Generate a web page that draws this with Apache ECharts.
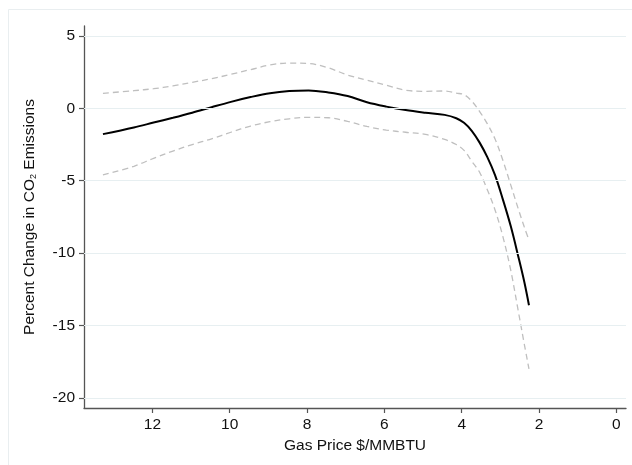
<!DOCTYPE html>
<html>
<head>
<meta charset="utf-8">
<script src="https://cdn.jsdelivr.net/npm/echarts@6/dist/echarts.min.js"></script>
<style>
  html, body { margin: 0; padding: 0; background: #fff; }
  #chart { width: 632px; height: 465px; }
</style>
</head>
<body>
<div id="chart"></div>
<script>
// Gas price ($/MMBTU) at which the estimates were read
const gasPrice = [13.28, 12.48, 11.97, 11.47, 10.97, 10.47, 9.97, 9.46, 8.96, 8.46, 7.96, 7.45, 6.95, 6.45, 5.95, 5.45, 4.94, 4.44, 4.14, 3.94, 3.74, 3.54, 3.34, 3.14, 2.94, 2.73, 2.53, 2.38, 2.26];
// Point estimate (% change in CO2 emissions)
const estimate = [-1.78, -1.32, -0.98, -0.65, -0.30, 0.08, 0.45, 0.78, 1.05, 1.20, 1.24, 1.10, 0.85, 0.42, 0.12, -0.12, -0.30, -0.45, -0.68, -1.00, -1.55, -2.35, -3.35, -4.60, -6.25, -8.15, -10.30, -12.00, -13.60];
// Upper confidence bound
const upper = [1.04, 1.22, 1.36, 1.55, 1.80, 2.05, 2.35, 2.68, 3.00, 3.13, 3.10, 2.80, 2.30, 1.95, 1.60, 1.25, 1.18, 1.20, 1.05, 0.95, 0.50, -0.20, -1.05, -2.10, -3.55, -5.30, -7.00, -8.20, -9.10];
// Lower confidence bound
const lower = [-4.60, -4.00, -3.45, -2.95, -2.50, -2.10, -1.65, -1.22, -0.92, -0.72, -0.62, -0.65, -0.90, -1.25, -1.50, -1.65, -1.80, -2.15, -2.50, -2.90, -3.65, -4.40, -5.60, -7.00, -8.80, -11.20, -14.10, -16.30, -18.00];
// Axis tick labels
const xTicks = [0, 2, 4, 6, 8, 10, 12];
const yTicks = [-20, -15, -10, -5, 0, 5];

const pairs = (ys) => gasPrice.map((x, i) => [x, ys[i]]);
const FONT = "'Liberation Sans', Arial, Helvetica, sans-serif";

const chart = echarts.init(document.getElementById('chart'), null, { renderer: 'canvas' });
chart.setOption({
  animation: false,
  backgroundColor: '#ffffff',
  graphic: [{
    type: 'rect',
    shape: { x: 8.5, y: 9.5, width: 640, height: 470 },
    style: { fill: 'none', stroke: '#e9eef0', lineWidth: 1 },
    silent: true, z: -10
  }],
  grid: { left: 84, right: 6, top: 26, bottom: 57, containLabel: false },
  xAxis: {
    type: 'value',
    inverse: true,
    min: -0.25,
    max: 13.77,
    name: 'Gas Price $/MMBTU',
    nameLocation: 'middle',
    nameGap: 26,
    nameTextStyle: { fontFamily: FONT, fontSize: 15.5, color: '#111' },
    axisLine: { show: true, onZero: false, lineStyle: { color: '#555', width: 1.3 } },
    axisTick: { show: true, length: 5, inside: false, customValues: xTicks, lineStyle: { color: '#555', width: 1.2 } },
    axisLabel: { customValues: xTicks, margin: 9, fontFamily: FONT, fontSize: 15.5, color: '#111' },
    splitLine: { show: false }
  },
  yAxis: {
    type: 'value',
    min: -20.7,
    max: 5.69,
    name: 'Percent Change in CO{sub|2} Emissions',
    nameLocation: 'middle',
    nameGap: 46,
    nameRotate: 90,
    nameTextStyle: {
      fontFamily: FONT, fontSize: 15.5, color: '#111',
      rich: { sub: { fontFamily: FONT, fontSize: 9, color: '#111', verticalAlign: 'bottom' } }
    },
    axisLine: { show: true, onZero: false, lineStyle: { color: '#555', width: 1.3 } },
    axisTick: { show: true, length: 5, inside: false, customValues: yTicks, lineStyle: { color: '#555', width: 1.2 } },
    axisLabel: { customValues: yTicks, margin: 9, fontFamily: FONT, fontSize: 15.5, color: '#111' },
    splitLine: { show: false }
  },
  series: [
    {
      name: 'grid',
      type: 'line',
      data: [],
      silent: true,
      z: 0,
      markLine: {
        silent: true,
        symbol: ['none', 'none'],
        label: { show: false },
        lineStyle: { color: '#e7eff1', width: 1.2, type: 'solid' },
        data: yTicks.map(v => ({ yAxis: v }))
      }
    },
    {
      name: 'Upper',
      type: 'line',
      data: pairs(upper),
      smooth: 0.35,
      showSymbol: false,
      z: 2,
      lineStyle: { color: '#bfbfbf', width: 1.3, type: [6, 4] }
    },
    {
      name: 'Lower',
      type: 'line',
      data: pairs(lower),
      smooth: 0.35,
      showSymbol: false,
      z: 2,
      lineStyle: { color: '#bfbfbf', width: 1.3, type: [6, 4] }
    },
    {
      name: 'Estimate',
      type: 'line',
      data: pairs(estimate),
      smooth: 0.35,
      showSymbol: false,
      z: 3,
      lineStyle: { color: '#000000', width: 2 }
    }
  ]
});
</script>
</body>
</html>
